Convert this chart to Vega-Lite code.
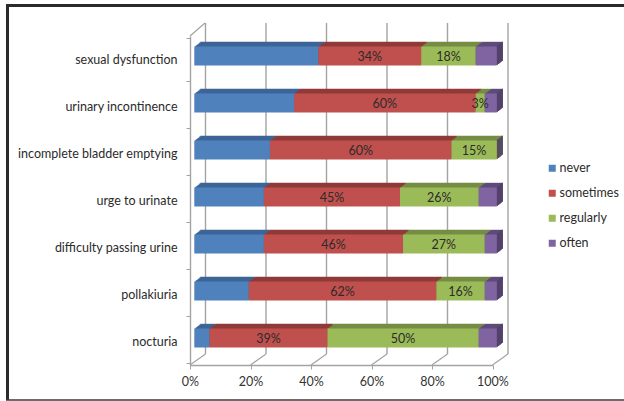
{
  "$schema": "https://vega.github.io/schema/vega-lite/v6.json",
  "width": 302.5,
  "height": 329,
  "autosize": "none",
  "padding": {"left": 190, "top": 36, "right": 131.5, "bottom": 36},
  "background": "white",
  "config": {"view": {"stroke": null}, "font": "Lato", "text": {"font": "Lato"}},
  "datasets": {
    "ticks": [{"tick": 0}, {"tick": 0.2}, {"tick": 0.4}, {"tick": 0.6}, {"tick": 0.8}, {"tick": 1}],
    "one": [{"id": 1}]
  },
  "data": {"values": [
    {"symptom": "sexual dysfunction", "frequency": "never", "rank": 1, "share": 41, "label": ""},
    {"symptom": "sexual dysfunction", "frequency": "sometimes", "rank": 2, "share": 34, "label": "34%"},
    {"symptom": "sexual dysfunction", "frequency": "regularly", "rank": 3, "share": 18, "label": "18%"},
    {"symptom": "sexual dysfunction", "frequency": "often", "rank": 4, "share": 7, "label": ""},
    {"symptom": "urinary incontinence", "frequency": "never", "rank": 1, "share": 33, "label": ""},
    {"symptom": "urinary incontinence", "frequency": "sometimes", "rank": 2, "share": 60, "label": "60%"},
    {"symptom": "urinary incontinence", "frequency": "regularly", "rank": 3, "share": 3, "label": "3%"},
    {"symptom": "urinary incontinence", "frequency": "often", "rank": 4, "share": 4, "label": ""},
    {"symptom": "incomplete bladder emptying", "frequency": "never", "rank": 1, "share": 25, "label": ""},
    {"symptom": "incomplete bladder emptying", "frequency": "sometimes", "rank": 2, "share": 60, "label": "60%"},
    {"symptom": "incomplete bladder emptying", "frequency": "regularly", "rank": 3, "share": 15, "label": "15%"},
    {"symptom": "incomplete bladder emptying", "frequency": "often", "rank": 4, "share": 0, "label": ""},
    {"symptom": "urge to urinate", "frequency": "never", "rank": 1, "share": 23, "label": ""},
    {"symptom": "urge to urinate", "frequency": "sometimes", "rank": 2, "share": 45, "label": "45%"},
    {"symptom": "urge to urinate", "frequency": "regularly", "rank": 3, "share": 26, "label": "26%"},
    {"symptom": "urge to urinate", "frequency": "often", "rank": 4, "share": 6, "label": ""},
    {"symptom": "difficulty passing urine", "frequency": "never", "rank": 1, "share": 23, "label": ""},
    {"symptom": "difficulty passing urine", "frequency": "sometimes", "rank": 2, "share": 46, "label": "46%"},
    {"symptom": "difficulty passing urine", "frequency": "regularly", "rank": 3, "share": 27, "label": "27%"},
    {"symptom": "difficulty passing urine", "frequency": "often", "rank": 4, "share": 4, "label": ""},
    {"symptom": "pollakiuria", "frequency": "never", "rank": 1, "share": 18, "label": ""},
    {"symptom": "pollakiuria", "frequency": "sometimes", "rank": 2, "share": 62, "label": "62%"},
    {"symptom": "pollakiuria", "frequency": "regularly", "rank": 3, "share": 16, "label": "16%"},
    {"symptom": "pollakiuria", "frequency": "often", "rank": 4, "share": 4, "label": ""},
    {"symptom": "nocturia", "frequency": "never", "rank": 1, "share": 5, "label": ""},
    {"symptom": "nocturia", "frequency": "sometimes", "rank": 2, "share": 39, "label": "39%"},
    {"symptom": "nocturia", "frequency": "regularly", "rank": 3, "share": 50, "label": "50%"},
    {"symptom": "nocturia", "frequency": "often", "rank": 4, "share": 6, "label": ""}
  ]},
  "resolve": {"scale": {"y": "independent", "color": "independent"}, "axis": {"y": "independent"}},
  "layer": [
    {
      "data": {"name": "one"},
      "layer": [
        {"mark": {"type": "rule", "color": "#2b2b2b", "strokeWidth": 3, "xOffset": -184, "x2Offset": 132, "yOffset": -30.5, "y2Offset": -30.5},
         "encoding": {"x": {"datum": 0, "type": "quantitative", "scale": {"domain": [0, 1], "nice": false}}, "x2": {"datum": 1}, "y": {"datum": 1, "type": "quantitative", "scale": {"domain": [0, 1]}, "axis": null}, "y2": {"datum": 1}}},
        {"mark": {"type": "rule", "color": "#2b2b2b", "strokeWidth": 3, "xOffset": -182.5, "x2Offset": -182.5, "yOffset": -30.5, "y2Offset": 35},
         "encoding": {"x": {"datum": 0, "type": "quantitative"}, "x2": {"datum": 0}, "y": {"datum": 1, "type": "quantitative", "axis": null}, "y2": {"datum": 0}}},
        {"mark": {"type": "rule", "color": "#3a3a3a", "strokeWidth": 1.5, "xOffset": -184, "x2Offset": 132, "yOffset": 35, "y2Offset": 35},
         "encoding": {"x": {"datum": 0, "type": "quantitative"}, "x2": {"datum": 1}, "y": {"datum": 0, "type": "quantitative", "axis": null}, "y2": {"datum": 0}}},
        {"mark": {"type": "rule", "color": "#a3a3a3", "strokeWidth": 1.2, "x2Offset": 15, "y2Offset": -13},
         "encoding": {"x": {"datum": 0, "type": "quantitative"}, "x2": {"datum": 0}, "y": {"datum": 1, "type": "quantitative", "axis": null}, "y2": {"datum": 1}}}
      ]
    },
    {
      "data": {"name": "ticks"},
      "layer": [
        {"mark": {"type": "rule", "color": "#a3a3a3", "strokeWidth": 1.4, "xOffset": 15.5, "x2Offset": 15.5, "yOffset": -13, "y2Offset": -11},
         "encoding": {
           "x": {"field": "tick", "type": "quantitative", "scale": {"domain": [0, 1], "nice": false},
             "axis": {"title": null, "values": [0, 0.2, 0.4, 0.6, 0.8, 1], "format": ".0%", "grid": false, "domainColor": "#a3a3a3", "domainWidth": 1.3, "tickColor": "#a3a3a3", "tickSize": 4, "labelFont": "Lato", "labelFontSize": 12.5, "labelColor": "#333333", "labelPadding": 6, "labelFlush": false}},
           "x2": {"field": "tick"},
           "y": {"datum": 1, "type": "quantitative", "scale": {"domain": [0, 1]}, "axis": null},
           "y2": {"datum": 0}}},
        {"mark": {"type": "rule", "color": "#a3a3a3", "strokeWidth": 1.2, "x2Offset": 15.5, "y2Offset": -11},
         "encoding": {
           "x": {"field": "tick", "type": "quantitative"},
           "x2": {"field": "tick"},
           "y": {"datum": 0, "type": "quantitative", "axis": null},
           "y2": {"datum": 0}}}
      ]
    },
    {
      "encoding": {
        "x": {"field": "share", "type": "quantitative", "stack": "normalize"},
        "y": {"field": "symptom", "type": "nominal", "sort": null, "axis": null},
        "order": {"field": "rank"},
        "color": {"field": "frequency", "type": "nominal", "legend": null,
          "scale": {"domain": ["never", "sometimes", "regularly", "often"], "range": ["#3c6596", "#8f3b39", "#748d43", "#5f4b7a"]}}
      },
      "layer": [
        {"mark": {"type": "bar", "size": 19, "xOffset": 10.3, "x2Offset": 10.3, "yOffset": -8.2, "y2Offset": -8.2}},
        {"mark": {"type": "bar", "size": 19, "xOffset": 9.3, "x2Offset": 9.3, "yOffset": -7.4, "y2Offset": -7.4}},
        {"mark": {"type": "bar", "size": 19, "xOffset": 8.3, "x2Offset": 8.3, "yOffset": -6.6, "y2Offset": -6.6}},
        {"mark": {"type": "bar", "size": 19, "xOffset": 7.3, "x2Offset": 7.3, "yOffset": -5.8, "y2Offset": -5.8}},
        {"mark": {"type": "bar", "size": 19, "xOffset": 6.3, "x2Offset": 6.3, "yOffset": -5, "y2Offset": -5}},
        {"mark": {"type": "bar", "size": 19, "xOffset": 5.3, "x2Offset": 5.3, "yOffset": -4.2, "y2Offset": -4.2}}
      ]
    },
    {
      "transform": [{"filter": "datum.frequency === 'often'"}],
      "encoding": {
        "x": {"datum": 1, "type": "quantitative"},
        "x2": {"datum": 1},
        "y": {"field": "symptom", "type": "nominal", "sort": null, "axis": null}
      },
      "layer": [
        {"mark": {"type": "bar", "size": 19, "color": "#523f69", "xOffset": 9.3, "x2Offset": 10.3, "yOffset": -8.2, "y2Offset": -8.2}},
        {"mark": {"type": "bar", "size": 19, "color": "#523f69", "xOffset": 8.3, "x2Offset": 9.3, "yOffset": -7.4, "y2Offset": -7.4}},
        {"mark": {"type": "bar", "size": 19, "color": "#523f69", "xOffset": 7.3, "x2Offset": 8.3, "yOffset": -6.6, "y2Offset": -6.6}},
        {"mark": {"type": "bar", "size": 19, "color": "#523f69", "xOffset": 6.3, "x2Offset": 7.3, "yOffset": -5.8, "y2Offset": -5.8}},
        {"mark": {"type": "bar", "size": 19, "color": "#523f69", "xOffset": 5.3, "x2Offset": 6.3, "yOffset": -5, "y2Offset": -5}},
        {"mark": {"type": "bar", "size": 19, "color": "#523f69", "xOffset": 4.3, "x2Offset": 5.3, "yOffset": -4.2, "y2Offset": -4.2}}
      ]
    },
    {
      "mark": {"type": "bar", "size": 19, "xOffset": 4.3, "x2Offset": 4.3, "yOffset": -3.5, "y2Offset": -3.5},
      "encoding": {
        "x": {"field": "share", "type": "quantitative", "stack": "normalize"},
        "y": {"field": "symptom", "type": "nominal", "sort": null, "title": null,
          "axis": {"orient": "left", "domainColor": "#a3a3a3", "domainWidth": 1.4, "tickColor": "#a3a3a3", "tickBand": "extent", "tickSize": 4, "labelFont": "Lato", "labelFontSize": 12.5, "labelColor": "#2b2b2b", "labelPadding": 9}},
        "order": {"field": "rank"},
        "color": {"field": "frequency", "type": "nominal",
          "scale": {"domain": ["never", "sometimes", "regularly", "often"], "range": ["#4f81bd", "#c0504d", "#9bbb59", "#8064a2"]},
          "legend": {"title": null, "orient": "none", "legendX": 356, "legendY": 126, "symbolType": "square", "symbolSize": 49, "symbolStrokeWidth": 0, "labelFont": "Lato", "labelFontSize": 12.5, "labelColor": "#2b2b2b", "rowPadding": 12, "labelOffset": 1}}
      }
    },
    {
      "mark": {"type": "text", "xOffset": 4.3, "yOffset": -2.5, "font": "Lato", "fontSize": 12.5, "color": "#2b2b2b"},
      "encoding": {
        "x": {"field": "share", "type": "quantitative", "stack": "normalize", "bandPosition": 0.5},
        "y": {"field": "symptom", "type": "nominal", "sort": null, "axis": null},
        "order": {"field": "rank"},
        "detail": {"field": "frequency"},
        "text": {"field": "label"}
      }
    }
  ]
}
